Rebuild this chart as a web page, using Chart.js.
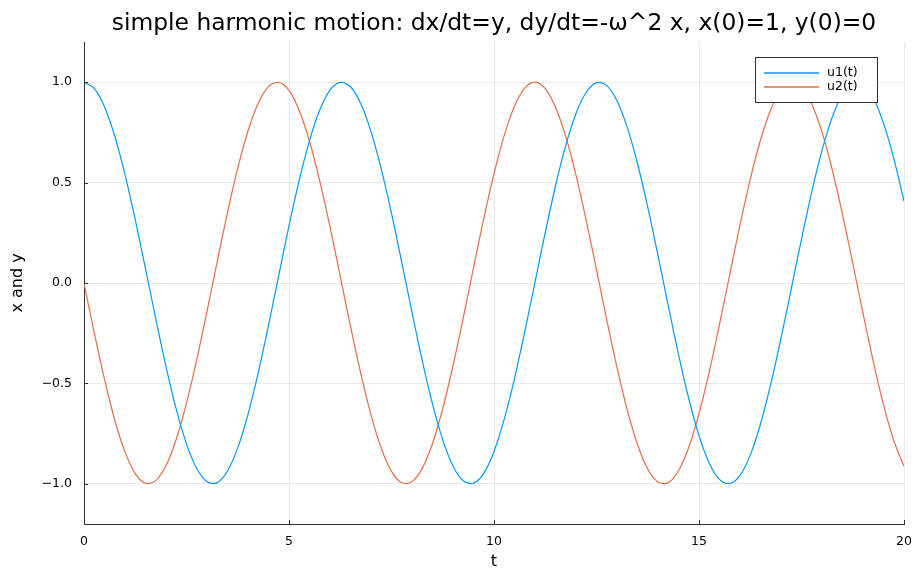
<!DOCTYPE html>
<html>
<head>
<meta charset="utf-8">
<script src="https://cdn.jsdelivr.net/npm/chart.js@4.4.1/dist/chart.umd.min.js"></script>
<style>
  html, body { margin: 0; padding: 0; background: #fff; }
  #wrap { width: 912px; height: 571px; }
</style>
</head>
<body>
<div id="wrap"><canvas id="chart" width="912" height="571"></canvas></div>
<script>
// valores (t cada 0.25)
const T = [
  0, 0.25, 0.5, 0.75, 1, 1.25, 1.5, 1.75, 2, 2.25, 2.5, 2.75, 3, 3.25, 3.5, 3.75,
  4, 4.25, 4.5, 4.75, 5, 5.25, 5.5, 5.75, 6, 6.25, 6.5, 6.75, 7, 7.25, 7.5, 7.75,
  8, 8.25, 8.5, 8.75, 9, 9.25, 9.5, 9.75, 10, 10.25, 10.5, 10.75, 11, 11.25, 11.5, 11.75,
  12, 12.25, 12.5, 12.75, 13, 13.25, 13.5, 13.75, 14, 14.25, 14.5, 14.75, 15, 15.25, 15.5, 15.75,
  16, 16.25, 16.5, 16.75, 17, 17.25, 17.5, 17.75, 18, 18.25, 18.5, 18.75, 19, 19.25, 19.5, 19.75, 20
];
const U1 = [
  1.000, 0.969, 0.878, 0.732, 0.540, 0.315, 0.071, -0.178, -0.416, -0.628, -0.801, -0.924, -0.990, -0.994, -0.936, -0.821,
  -0.654, -0.446, -0.211, 0.038, 0.284, 0.512, 0.709, 0.861, 0.960, 0.999, 0.977, 0.893, 0.754, 0.568, 0.347, 0.104,
  -0.146, -0.386, -0.602, -0.781, -0.911, -0.985, -0.997, -0.948, -0.839, -0.678, -0.476, -0.243, 0.004, 0.252, 0.483, 0.685,
  0.844, 0.950, 0.998, 0.983, 0.907, 0.775, 0.595, 0.378, 0.137, -0.113, -0.355, -0.575, -0.760, -0.897, -0.978, -0.999,
  -0.958, -0.857, -0.702, -0.504, -0.275, -0.029, 0.219, 0.454, 0.660, 0.826, 0.940, 0.995, 0.989, 0.921, 0.796, 0.621, 0.408
];
const U2 = [
  0.000, -0.247, -0.479, -0.682, -0.841, -0.949, -0.997, -0.984, -0.909, -0.778, -0.598, -0.382, -0.141, 0.108, 0.351, 0.572,
  0.757, 0.895, 0.978, 0.999, 0.959, 0.859, 0.706, 0.508, 0.279, 0.033, -0.215, -0.450, -0.657, -0.823, -0.938, -0.995,
  -0.989, -0.923, -0.799, -0.625, -0.412, -0.174, 0.075, 0.320, 0.544, 0.735, 0.880, 0.970, 1.000, 0.968, 0.875, 0.729,
  0.537, 0.311, 0.066, -0.183, -0.420, -0.632, -0.804, -0.926, -0.991, -0.994, -0.935, -0.818, -0.650, -0.442, -0.206, 0.042,
  0.288, 0.516, 0.712, 0.863, 0.961, 1.000, 0.976, 0.891, 0.751, 0.564, 0.342, 0.099, -0.150, -0.390, -0.606, -0.784, -0.913
];
const SERIES = ['u1(t)', 'u2(t)'];
const X_TICKS = [0, 5, 10, 15, 20];
const Y_TICKS = [-1, -0.5, 0, 0.5, 1];
const Y_LABELS = ['\u22121.0', '\u22120.5', '0.0', '0.5', '1.0'];
const TITLE = 'simple harmonic motion: dx/dt=y, dy/dt=-\u03c9^2 x, x(0)=1, y(0)=0';
const X_TITLE = 't';
const Y_TITLE = 'x and y';

const COLORS = ['#009af9', '#e26f46'];
const FONT = '"DejaVu Sans", sans-serif';
const AXIS = '#333333';
const GRID = 'rgba(0,0,0,0.08)';

const pts = ys => T.map((t, i) => ({ x: t, y: ys[i] }));

// título, ejes, marcas y leyenda dibujados a mano
const decor = {
  id: 'decor',
  afterDraw(chart) {
    const { ctx, chartArea: a, scales: { x, y } } = chart;
    ctx.save();
    // marcas de eje hacia dentro
    ctx.strokeStyle = AXIS; ctx.lineWidth = 1;
    ctx.beginPath();
    X_TICKS.forEach(v => { const px = Math.round(x.getPixelForValue(v)) + 0.5; ctx.moveTo(px, a.bottom); ctx.lineTo(px, a.bottom - 4); });
    Y_TICKS.forEach(v => { const py = Math.round(y.getPixelForValue(v)) + 0.5; ctx.moveTo(a.left, py); ctx.lineTo(a.left + 4, py); });
    ctx.stroke();

    ctx.fillStyle = '#000';
    ctx.textAlign = 'center'; ctx.textBaseline = 'alphabetic';
    ctx.font = '23.4px ' + FONT;
    ctx.fillText(TITLE, (a.left + a.right) / 2, 30);
    ctx.textBaseline = 'middle';
    ctx.font = '16px ' + FONT;
    ctx.fillText(X_TITLE, (a.left + a.right) / 2, 562);
    ctx.save();
    ctx.translate(18, (a.top + a.bottom) / 2);
    ctx.rotate(-Math.PI / 2);
    ctx.fillText(Y_TITLE, 0, 0);
    ctx.restore();

    // leyenda
    const lx = 755, ly = 57, lw = 122, lh = 45;
    ctx.fillStyle = '#fff';
    ctx.fillRect(lx, ly, lw, lh);
    ctx.strokeStyle = AXIS; ctx.lineWidth = 1;
    ctx.strokeRect(lx + 0.5, ly + 0.5, lw, lh);
    ctx.font = '12.5px ' + FONT;
    ctx.textAlign = 'left';
    SERIES.forEach((name, i) => {
      const yy = 73 + i * 14;
      ctx.strokeStyle = COLORS[i]; ctx.lineWidth = 1.5;
      ctx.beginPath(); ctx.moveTo(764, yy); ctx.lineTo(819, yy); ctx.stroke();
      ctx.fillStyle = '#000';
      ctx.fillText(name, 827, yy);
    });
    ctx.restore();
  }
};

new Chart(document.getElementById('chart'), {
  type: 'line',
  data: {
    datasets: SERIES.map((name, i) => ({
      label: name,
      data: pts(i === 0 ? U1 : U2),
      borderColor: COLORS[i],
      backgroundColor: COLORS[i],
      borderWidth: 1.2,
      pointRadius: 0,
      tension: 0.33,
      fill: false
    }))
  },
  options: {
    responsive: false,
    animation: false,
    events: [],
    layout: { padding: { top: 42, right: 0, left: 0, bottom: 0 } },
    plugins: { legend: { display: false }, title: { display: false }, tooltip: { enabled: false } },
    scales: {
      x: {
        type: 'linear', min: 0, max: 20,
        afterBuildTicks: s => { s.ticks = X_TICKS.map(v => ({ value: v })); },
        afterFit: s => { s.height = 47; s.paddingRight = 8; },
        grid: { color: GRID, drawTicks: false },
        border: { color: AXIS, width: 1 },
        ticks: { padding: 10, color: '#000', font: { family: FONT, size: 12.5 }, maxRotation: 0, callback: v => String(v) }
      },
      y: {
        type: 'linear', min: -1.2, max: 1.2,
        afterBuildTicks: s => { s.ticks = Y_TICKS.map(v => ({ value: v })); },
        afterFit: s => { s.width = 84; },
        grid: { color: GRID, drawTicks: false },
        border: { color: AXIS, width: 1 },
        ticks: { padding: 12, color: '#000', font: { family: FONT, size: 12.5 },
          callback: v => Y_LABELS[Y_TICKS.indexOf(v)] }
      }
    }
  },
  plugins: [decor]
});
</script>
</body>
</html>
